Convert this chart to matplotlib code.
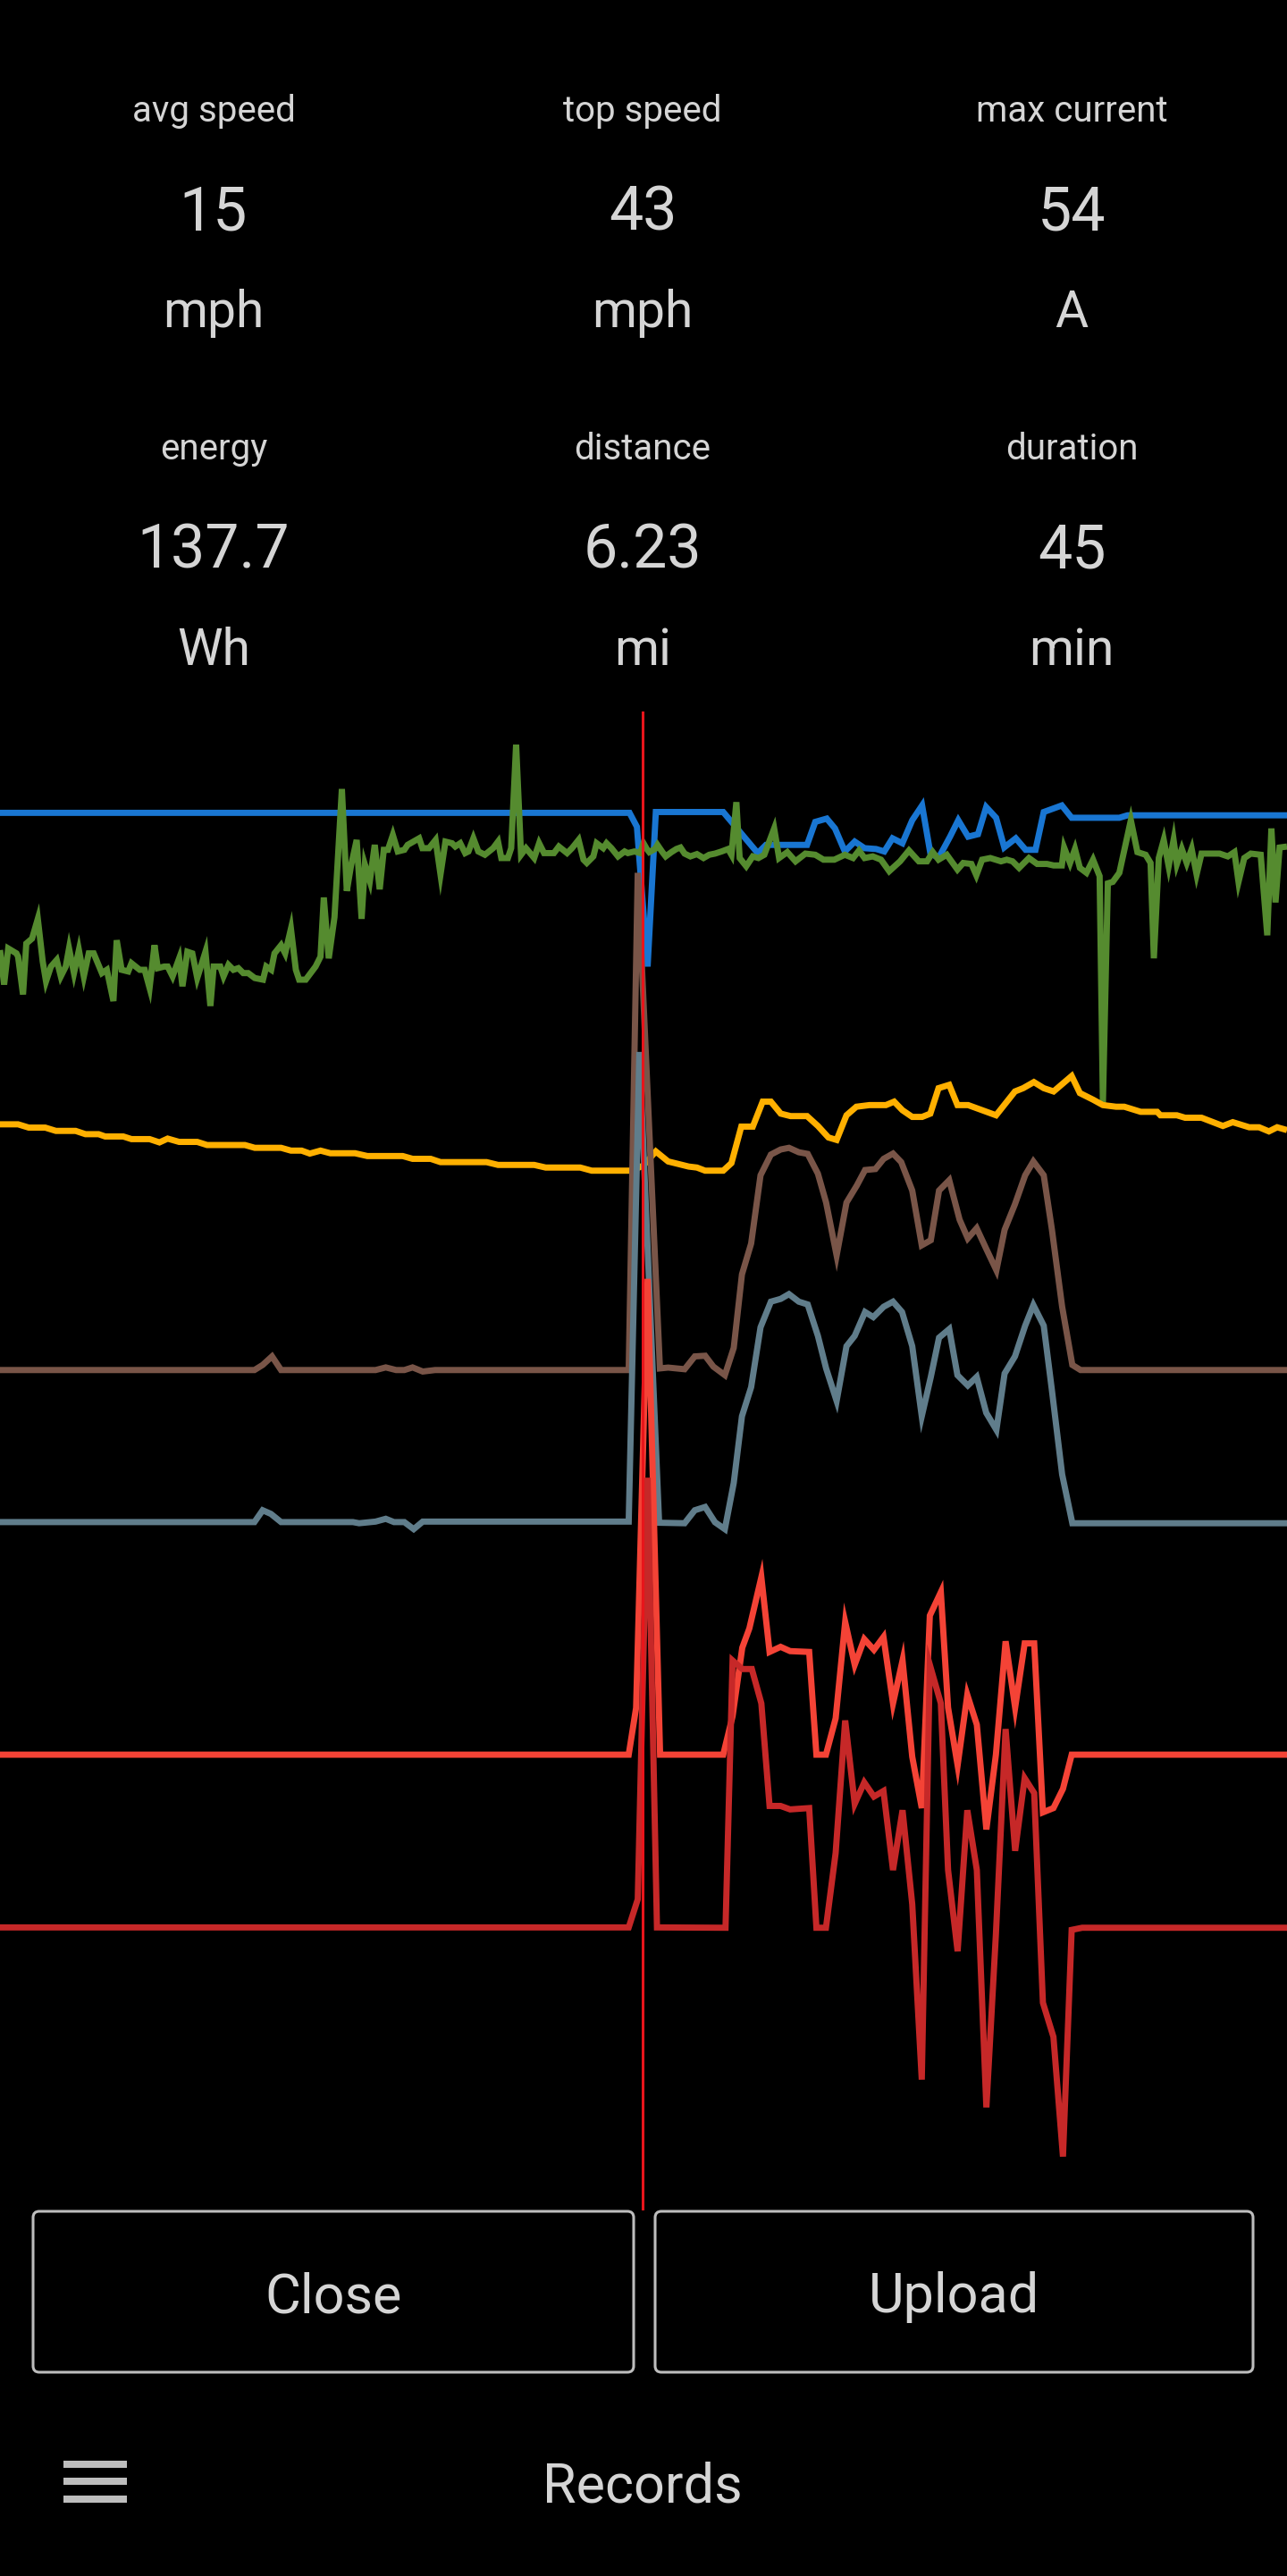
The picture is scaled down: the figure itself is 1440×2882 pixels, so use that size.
import matplotlib
matplotlib.use("Agg")
import matplotlib.pyplot as plt
from matplotlib.patches import FancyBboxPatch, Rectangle

plt.rcParams['font.family'] = ['Roboto', 'DejaVu Sans']

# ---- summary tiles ----
labels = [['avg speed', 'top speed', 'max current'],
          ['energy', 'distance', 'duration']]
values = [['15', '43', '54'],
          ['137.7', '6.23', '45']]
units = [['mph', 'mph', 'A'],
         ['Wh', 'mi', 'min']]

# ---- ride log traces: (sample, normalised level 0..912) ----
n_samples = 783
level_max = 912
cursor_sample = 391

blue = [(0, 850.5), (383, 850.5), (387.5, 842), (394, 757), (399, 851), (440, 851), (461, 826),
        (466, 831), (491, 831), (496, 845), (503, 847), (508, 841), (514, 827), (520, 833),
        (526, 829), (533, 828.5), (538, 827), (543, 835), (549, 832), (555, 846), (561, 855),
        (566, 826), (571, 823), (578, 836), (583, 846), (589, 836), (595, 837.5), (600, 854),
        (606, 847.5), (611, 829.5), (618, 835), (624, 828), (630, 828), (635, 851), (646, 855),
        (652, 847.5), (681, 847.5), (686, 849), (783, 849)]

green = [(0, 767), (2.5, 746), (5, 768), (10, 765), (11, 763), (14, 740), (16, 771), (19.5, 774),
         (23, 786), (26, 760), (28, 748), (31, 757), (34.5, 761), (37, 751), (40, 757), (42, 768),
         (45, 753), (48, 767), (51, 751), (54, 765), (57, 765), (62, 753), (65, 755), (69, 736),
         (71, 773), (74, 755), (78, 754), (80, 759), (85, 755), (88, 755), (91, 744), (94, 770),
         (96, 756), (100, 757), (102, 757), (105, 751), (109, 762), (111, 745), (114, 766),
         (117, 765), (120, 750), (125, 766), (128, 733), (130, 757), (134, 757), (136, 751),
         (139, 758), (142, 755), (145, 756), (148, 753), (151, 753), (155, 750), (160, 749),
         (162, 757), (165, 755), (167, 765), (171, 770), (173.5, 765), (177, 780), (180, 755),
         (182, 749), (186, 749), (192, 757), (195, 763), (197, 799), (200, 762), (203.5, 787),
         (208, 865), (211, 803), (213.5, 818), (217, 834), (220, 786), (222, 819), (225, 809),
         (228, 831), (231, 804), (233.5, 828), (236, 828), (239, 837), (242, 827), (246, 828),
         (248, 831), (255, 835), (257, 829), (261, 829), (265, 834), (268, 813), (271, 833),
         (275, 832), (277, 830), (280, 832), (283, 826), (285, 827), (288, 835), (291, 827),
         (295, 825), (300, 829), (303, 833), (305, 823), (309, 823), (311, 829), (314, 892),
         (317, 825), (320, 829), (325, 823), (328, 832), (331, 826), (337, 826), (340, 830),
         (345, 826), (348, 829), (352, 834), (355, 822), (357, 820), (361, 824), (363, 832),
         (367, 829), (369, 832), (372, 829), (376, 824), (380, 827), (382, 826), (386, 827),
         (389.5, 826), (391.5, 832), (393.5, 828.5), (395, 826.6), (398.5, 828.5), (400, 831),
         (403, 826.6), (405, 824), (408.5, 826.6), (411.5, 828.5), (414, 829.4), (416.5, 825.7),
         (420, 824), (424, 825.4), (428, 823), (431.5, 825), (435, 825.7), (439, 827),
         (443, 828.5), (445, 825), (448, 857), (450, 823), (454, 818), (458, 824), (461.4, 823),
         (465, 825), (471, 841), (474, 823), (479, 826.6), (484, 821), (490, 825.7), (496, 825),
         (501, 822), (507.6, 822), (514, 825), (519, 823), (522.6, 827.6), (526, 823), (531, 824),
         (536, 822), (541, 815), (547.6, 821), (553, 827.6), (559, 821), (564, 821),
         (567.5, 826.6), (571, 822), (576, 825), (582.5, 816), (586, 820), (591, 819.4),
         (594, 812.5), (597.5, 822), (602.5, 823), (609, 821), (612.5, 822), (616, 821),
         (620, 817), (626, 823), (631, 819.4), (637, 819.4), (641, 818.5), (646, 818.5),
         (647.4, 829.4), (651, 820), (654, 828.5), (657, 817), (661, 814), (665, 822), (669, 812),
         (671, 674), (674, 807.6), (677, 808.5), (681, 814), (688, 846), (692, 826.6), (697, 825),
         (700, 820), (702, 762), (705, 823), (708, 834), (711, 818), (714, 834), (716, 819.4),
         (719, 828.5), (722, 820), (725, 828.5), (728, 813), (731, 825.7), (742, 825.7),
         (747, 824), (751, 826.6), (753.5, 808.5), (757, 823), (761, 825.7), (767, 825),
         (771, 776), (773.5, 841), (776, 796), (778.5, 829.4), (783, 830)]

amber = [(0, 661), (11, 661), (17.5, 659), (27.5, 659), (34, 657), (46, 657), (52, 655), (60, 655),
         (64, 653.6), (75, 653.6), (80, 652), (91, 652), (97, 650), (102, 652.3), (109, 650.3),
         (120, 650.3), (126, 648.4), (149, 648.4), (155, 646.7), (171, 646.7), (177, 645),
         (183.5, 645), (188.5, 643.2), (195, 645), (201, 643.4), (216, 643.4), (223.5, 641.7),
         (245, 641.7), (251, 640), (262, 640), (268, 638), (296, 638), (303, 636.3), (325, 636.3),
         (332, 634.7), (353, 634.7), (360, 632.8), (384.5, 632.8), (391.5, 636), (399, 644.5),
         (406.5, 638.4), (419, 635.3), (424, 634.7), (429, 632.8), (440, 632.8), (445, 637.4),
         (451, 659.6), (458, 659.6), (464, 674.8), (469, 674.8), (475, 667.5), (481, 666),
         (491, 666), (497.6, 660), (504, 653), (509, 651.5), (515, 666.5), (521, 671.7),
         (529, 672.7), (539, 672.7), (544, 674.8), (549, 669.6), (555, 665.5), (561, 665.5),
         (566, 667.5), (571, 683), (577.5, 685), (582.5, 672.7), (589, 672.7), (606, 666.5),
         (617.5, 681), (622.5, 683), (629, 686.7), (635, 683), (641, 681), (652, 690.4),
         (657, 680), (665, 676), (671, 672.7), (679, 671.7), (684, 671.7), (694, 668.6),
         (704, 668.6), (706, 666.5), (716, 666.5), (721, 665), (731, 665), (744, 660),
         (750, 662.3), (760, 659.2), (766, 659.2), (772, 656.7), (777, 659.2), (783, 657.5)]

brown = [(0, 511.5), (154.8, 511.5), (159.8, 514.6), (165.5, 519.8), (171, 511.5), (228.5, 511.5),
         (234.7, 513.1), (241, 511.5), (246, 511.5), (251, 513.1), (257.2, 510.6), (264.7, 511.5),
         (382.5, 511.5), (388, 814), (401.5, 512.5), (406.5, 513), (416.5, 512), (422.7, 519.8),
         (429, 520.2), (434, 513.6), (441, 508.4), (446.4, 525), (451.4, 569.7), (457, 588.5),
         (462.7, 630), (469, 642.6), (475, 645.7), (480, 646.7), (486, 644), (491.4, 643),
         (497.6, 631), (502.6, 613.4), (509, 581.2), (515, 613.4), (521.3, 623.8), (526.3, 633.2),
         (532.6, 633.8), (537.6, 640), (543.3, 643.2), (548.3, 638), (555, 620.7), (560.8, 587.4),
         (566.3, 590.5), (571.3, 620.7), (577.5, 627), (583.8, 603), (588.8, 591.6),
         (594.2, 597.8), (600, 585.3), (606.2, 572.2), (611.2, 596.8), (617.5, 612.4),
         (623.7, 630), (628.7, 638.4), (635, 630), (640, 596.8), (646.2, 550), (652.4, 514.6),
         (657.4, 511.5), (783, 511.5)]

slate = [(0, 419), (154.8, 419), (159.8, 426.2), (164.8, 424), (171, 419), (214.7, 419),
         (218.5, 418.3), (228.5, 419.3), (234.7, 421), (239.7, 419), (246, 419), (251.7, 414.7),
         (257.2, 419.3), (382.5, 419.3), (389, 705), (401, 418.6), (416.5, 418.3), (422.7, 426.2),
         (429, 428.2), (435, 418.9), (441, 414.7), (446.4, 442.8), (451.4, 483.4), (457, 501.1),
         (462.7, 537.5), (469, 553.1), (475, 554.8), (480, 557.7), (486, 553.1), (491.4, 551.4),
         (497.6, 532.3), (502.6, 512.5), (509, 492.7), (515, 526), (520, 532.3), (526.3, 546.8),
         (531.3, 543.7), (537.6, 550), (543.3, 553.1), (548.8, 546.8), (555, 526), (560.8, 483.4),
         (566.3, 507.3), (571.3, 531.2), (577.5, 536.4), (582.5, 508.4), (588.8, 502.1),
         (594.2, 507.3), (600, 485.5), (606.2, 475.1), (611.2, 509.4), (617.5, 519.8),
         (623.7, 538.5), (628.7, 551), (635, 538.5), (640, 499), (646.2, 448), (652.4, 418.3),
         (783, 418.3)]

red = [(0, 277.5), (382.5, 277.5), (387, 306), (394, 567), (401.6, 277.5), (440, 277.5),
       (445.7, 300.9), (451.6, 342.6), (455.9, 354.3), (463.2, 385.5), (468.2, 340),
       (474.9, 343.1), (480.7, 340.5), (492.3, 340), (496.7, 277.5), (502.5, 277.5),
       (508.4, 299.6), (514.2, 358.2), (520, 332.2), (525.8, 347.8), (531.7, 341.3),
       (537.5, 349.1), (543.3, 308.7), (549.1, 334.8), (555, 276.2), (560.8, 245),
       (565.7, 362.1), (572.4, 376.4), (576.8, 306.1), (582.6, 271), (588.5, 313.9),
       (594.3, 295.7), (600.1, 232), (605.9, 277.5), (611.8, 346.5), (617.6, 306.1),
       (623.4, 345.2), (629.2, 345.2), (634.5, 242.4), (640.9, 245), (646.7, 256.7),
       (652, 277.5), (783, 277.5)]

dark_red = [(0, 172.4), (382.5, 172.4), (388, 189.5), (394, 446), (399.7, 172.4), (441.4, 172.2),
            (445.7, 334.8), (451.6, 329.6), (457.4, 329.6), (463.2, 308.7), (468.2, 246.3),
            (474.9, 246.3), (480.7, 244.2), (492.3, 245), (496.7, 172.2), (502.5, 172.2),
            (508.4, 217.7), (514.2, 298.3), (520, 247.6), (525.8, 260.6), (531.7, 252),
            (537.5, 255.4), (543.3, 207.3), (549.1, 243.7), (555, 186.5), (560.8, 79.8),
            (565.7, 332.2), (572.4, 308.7), (576.8, 207.3), (582.6, 157.9), (588.5, 243.7),
            (594.3, 207.3), (600.1, 62.9), (605.9, 168.3), (611.8, 293.1), (617.6, 219),
            (623.4, 263.2), (629.2, 254.1), (634.5, 126.6), (640.9, 105.8), (646.7, 33),
            (652, 170.9), (658.4, 172.2), (783, 172.2)]

series = [(blue, '#1976D2'), (green, '#558B2F'), (amber, '#FFB000'), (brown, '#795548'),
          (slate, '#607D8B'), (red, '#F44336'), (dark_red, '#C62828')]

W, H = 1440, 2882
text_col = '#D5D5D5'
fig = plt.figure(figsize=(W / 100, H / 100), dpi=100, facecolor='black')

# chart
ax = fig.add_axes([0, 1 - 2473.4 / H, 1, (2473.4 - 796.3) / H])
ax.set_facecolor('none')
ax.set_xlim(0, n_samples)
ax.set_ylim(0, level_max)
ax.axis('off')
for data, col in series:
    xs = [p[0] for p in data]
    ys = [p[1] for p in data]
    ax.plot(xs, ys, color=col, lw=5.0, solid_joinstyle='miter', solid_capstyle='butt')
ax.axvline(cursor_sample, color='#E8151B', lw=2.2)

# ui layer in pixel space
ui = fig.add_axes([0, 0, 1, 1], zorder=-1)
ui.set_xlim(0, W)
ui.set_ylim(H, 0)
ui.axis('off')
ui.set_facecolor('black')

col_x = [239, 719, 1199]
for r in range(2):
    off = r * 378
    for c in range(3):
        ui.text(col_x[c], 136 + off, labels[r][c], color=text_col, fontsize=29,
                ha='center', va='baseline')
        ui.text(col_x[c], 257 + off, values[r][c], color=text_col, fontsize=49,
                ha='center', va='baseline')
        ui.text(col_x[c], 366 + off, units[r][c], color=text_col, fontsize=41,
                ha='center', va='baseline')

# buttons
for x0, x1, label in [(37, 709, 'Close'), (733, 1402, 'Upload')]:
    ui.add_patch(FancyBboxPatch((x0, 2474), x1 - x0, 180,
                                boxstyle='round,pad=0,rounding_size=7',
                                fc='none', ec='#BDBDBD', lw=2.2))
    ui.text((x0 + x1) / 2, 2564, label, color=text_col, fontsize=44,
            ha='center', va='center_baseline')

# bottom bar
for yb in [2753, 2772, 2792]:
    ui.add_patch(Rectangle((71, yb), 71, 8, fc='#BDBDBD', ec='none'))
ui.text(719, 2777, 'Records', color=text_col, fontsize=44, ha='center', va='center_baseline')

fig.savefig('out.png', dpi=100, facecolor='black')
